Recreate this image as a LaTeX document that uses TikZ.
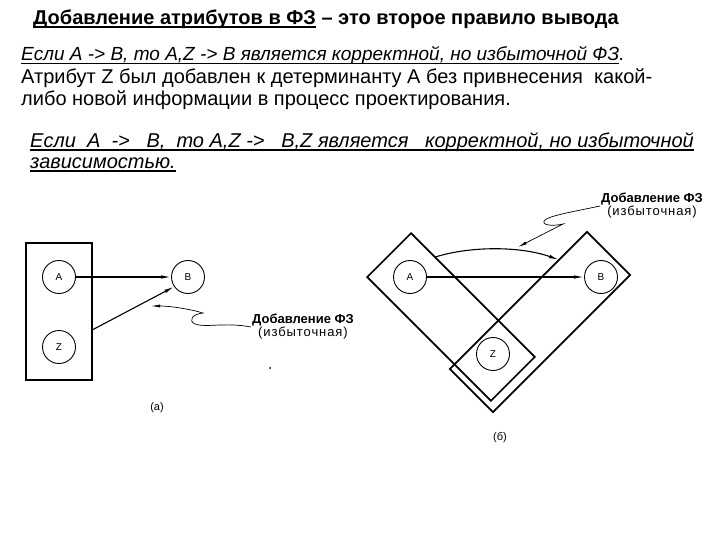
\documentclass[tikz,border=0pt]{standalone}
\usepackage{fontspec}
\setmainfont{Liberation Sans}
\usetikzlibrary{arrows.meta, positioning}

% underlined text, rule thickness as first argument
\newcommand{\ultext}[2]{\setbox0\hbox{#2}\rlap{\rule[-2.8pt]{\wd0}{#1}}\box0}

\tikzset{
  setbox/.style={draw, line width=1.7pt, inner sep=0pt, outer sep=0pt},
  attr/.style={draw, circle, line width=0.9pt, minimum size=33pt, inner sep=0pt,
    font=\fontsize{10}{10}\selectfont},
  fdarrow/.style={-{Latex[length=10pt,width=3.5pt]}, line width=1.1pt},
  leader/.style={-{Latex[length=9pt,width=3pt]}, line width=0.7pt},
  textline/.style={anchor=base west, inner sep=0pt, font=\fontsize{20}{22}\selectfont},
  note/.style={align=center, inner sep=1pt, font=\fontsize{13}{13}\selectfont}
}
\newcommand{\notetext}{\textbf{Добавление ФЗ}\\{\addfontfeature{LetterSpace=7}(избыточная)}}

\begin{document}
\begin{tikzpicture}[x=1pt, y=-1pt]
  \useasboundingbox (0,0) rectangle (720,540);

  % Header and rule text
  \node[textline, font=\bfseries\fontsize{20}{22}\selectfont] (title) at (33,25)
    {\ultext{1.6pt}{Добавление атрибутов в ФЗ}\ – это второе правило вывода};
  \node[textline, font=\itshape\fontsize{19}{22}\selectfont] (rule1) at (21,61)
    {\ultext{1.1pt}{Если A -> B, то A,Z -> B является корректной, но избыточной ФЗ}.};
  \node[textline] (expl1) at (21,84)
    {Атрибут Z был добавлен к детерминанту A без привнесения\ \ какой-};
  \node[textline] (expl2) at (21,106)
    {либо новой информации в процесс проектирования.};
  \node[textline, font=\itshape\fontsize{20}{22}\selectfont] (rule2) at (30,148)
    {\ultext{1.5pt}{Если\ \ A\ \ ->\ \ \ B,\ \ то A,Z ->\ \ \ B,Z является\ \ \ корректной, но избыточной}};
  \node[textline, font=\itshape\fontsize{20}{22}\selectfont] (rule3) at (30,169)
    {\ultext{1.5pt}{зависимостью.}};

  % (a) determinant A,Z in one box
  \node[setbox, minimum width=66pt, minimum height=137pt] (setAZ) at (59,311.5) {};
  \node[attr] (a1) at (59,277) {A};
  \node[attr] (z1) at (59,347) {Z};
  \node[attr] (b1) at (188,277) {B};
  \draw[fdarrow] (a1) -- (b1);
  \draw[fdarrow] (setAZ.east |- z1.north) -- (b1.215);
  \node[note] (lbl1) at (303,327) {\notetext};
  \draw[leader] (lbl1.west) .. controls (225,322) and (205,328) .. (195,324)
    .. controls (188,321) and (192,314) .. (203,313)
    .. controls (190,309) and (170,306) .. (151,306);
  \fill (270,368) circle (1pt);
  \node[font=\fontsize{11}{12}\selectfont] (capa) at (157,408) {(а)};

  % (b) two crossing boxes
  \node[setbox, rotate=-45, minimum width=175pt, minimum height=62pt] (setAZb) at (451,317) {};
  \node[setbox, rotate=45, minimum width=194pt, minimum height=61pt] (setBZ) at (540,322) {};
  \node[attr] (a2) at (410,277) {A};
  \node[attr] (b2) at (601,277) {B};
  \node[attr] (z2) at (493,354) {Z};
  \draw[fdarrow] (a2) -- (b2);
  \draw[fdarrow] (setAZb.150) .. controls (470,246) and (520,246) .. (setBZ.28);
  \node[note] (lbl2) at (652,206) {\notetext};
  \draw[leader] (lbl2.west) .. controls (572,212) and (547,216) .. (544,221)
    .. controls (542,226) and (555,226) .. (563,224) -- (518,247);
  \node[font=\fontsize{11}{12}\selectfont] (capb) at (500,438) {(б)};
\end{tikzpicture}
\end{document}
